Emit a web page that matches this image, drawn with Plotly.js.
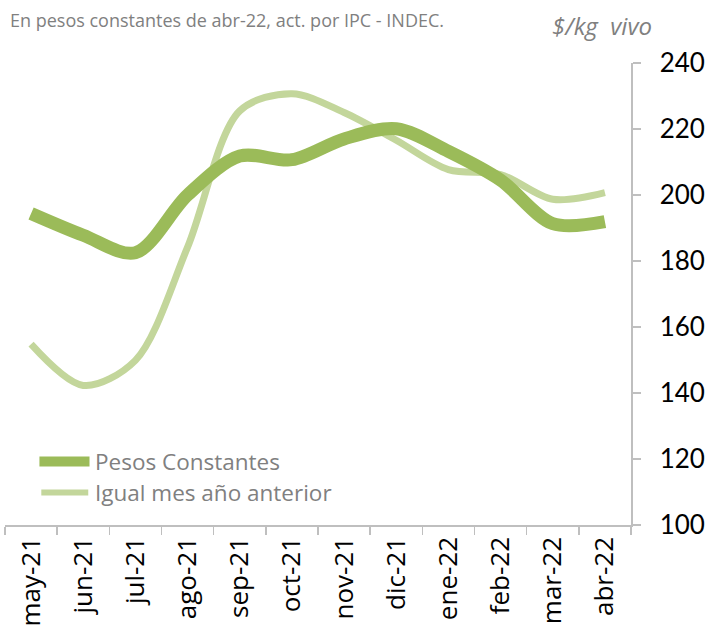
<!DOCTYPE html>
<html>
<head>
<meta charset="utf-8">
<script src="https://cdn.plot.ly/plotly-3.0.1.min.js"></script>
<style>html,body{margin:0;padding:0;background:#fff;}#chart{width:710px;height:629px;}</style>
</head>
<body>
<div id="chart"></div>
<script>
const months = ["may-21","jun-21","jul-21","ago-21","sep-21","oct-21","nov-21","dic-21","ene-22","feb-22","mar-22","abr-22"];
const pesosConstantes = [194.4, 187.8, 182.5, 200.0, 211.8, 210.7, 217.0, 220.1, 213.2, 204.5, 191.3, 191.9];
const igualMesAnterior = [154.8, 142.3, 149.9, 184.2, 225.5, 230.7, 225.0, 216.6, 207.7, 206.2, 198.7, 200.7];
const yTicks = [100, 120, 140, 160, 180, 200, 220, 240];
const seriesNames = ["Pesos Constantes", "Igual mes año anterior"];

const darkGreen = "#9BBB59";
const lightGreen = "#C3D69B";
const font = "'Open Sans', 'Noto Sans', sans-serif";
const numFont = "Lato, 'Liberation Sans', sans-serif";

const traces = [
  {x: months, y: igualMesAnterior, name: seriesNames[1], type: "scatter", mode: "lines",
   line: {color: lightGreen, width: 7, shape: "spline", smoothing: 0.9}, showlegend: false},
  {x: months, y: pesosConstantes, name: seriesNames[0], type: "scatter", mode: "lines",
   line: {color: darkGreen, width: 13, shape: "spline", smoothing: 0.9}, showlegend: false}
];

const layout = {
  width: 710, height: 629,
  margin: {l: 5, r: 79, t: 63, b: 104},
  paper_bgcolor: "#fff", plot_bgcolor: "#fff",
  showlegend: false,
  xaxis: {
    type: "category", range: [-0.5, 11.5],
    showline: true, linecolor: "#BFBFBF", linewidth: 1.5,
    ticks: "outside", tickson: "boundaries", ticklen: 8, tickcolor: "#BFBFBF", tickwidth: 1.5,
    tickangle: -90, tickfont: {family: font, size: 26, color: "#000"},
    showgrid: false, zeroline: false, fixedrange: true
  },
  yaxis: {
    side: "right", range: [100, 240], tickvals: yTicks, ticktext: yTicks.map(String),
    showline: true, linecolor: "#BFBFBF", linewidth: 1.5,
    ticks: "outside", ticklen: 8, tickcolor: "#BFBFBF", tickwidth: 1.5,
    ticklabelstandoff: 14,
    tickfont: {family: numFont, size: 26, color: "#000"},
    showgrid: false, zeroline: false, fixedrange: true
  },
  shapes: [
    {type: "line", xref: "paper", yref: "paper", x0: 0.055, x1: 0.135, y0: 0.1375, y1: 0.1375,
     line: {color: darkGreen, width: 10}},
    {type: "line", xref: "paper", yref: "paper", x0: 0.058, x1: 0.133, y0: 0.0705, y1: 0.0705,
     line: {color: lightGreen, width: 6}}
  ],
  annotations: [
    {text: "En pesos constantes de abr-22, act. por IPC - INDEC.", xref: "paper", yref: "paper",
     x: 0.004, y: 1.093, xanchor: "left", yanchor: "middle", showarrow: false,
     font: {family: font, size: 18, color: "#808080"}},
    {text: "<i>$/kg  vivo</i>", xref: "paper", yref: "paper",
     x: 0.871, y: 1.082, xanchor: "left", yanchor: "middle", showarrow: false,
     font: {family: font, size: 24, color: "#808080"}},
    {text: seriesNames[0], xref: "paper", yref: "paper", x: 0.14, y: 0.1375,
     xanchor: "left", yanchor: "middle", showarrow: false,
     font: {family: font, size: 22.5, color: "#808080"}},
    {text: seriesNames[1], xref: "paper", yref: "paper", x: 0.14, y: 0.0705,
     xanchor: "left", yanchor: "middle", showarrow: false,
     font: {family: font, size: 22.5, color: "#808080"}}
  ]
};

Plotly.newPlot("chart", traces, layout, {displayModeBar: false, staticPlot: true});
</script>
</body>
</html>
